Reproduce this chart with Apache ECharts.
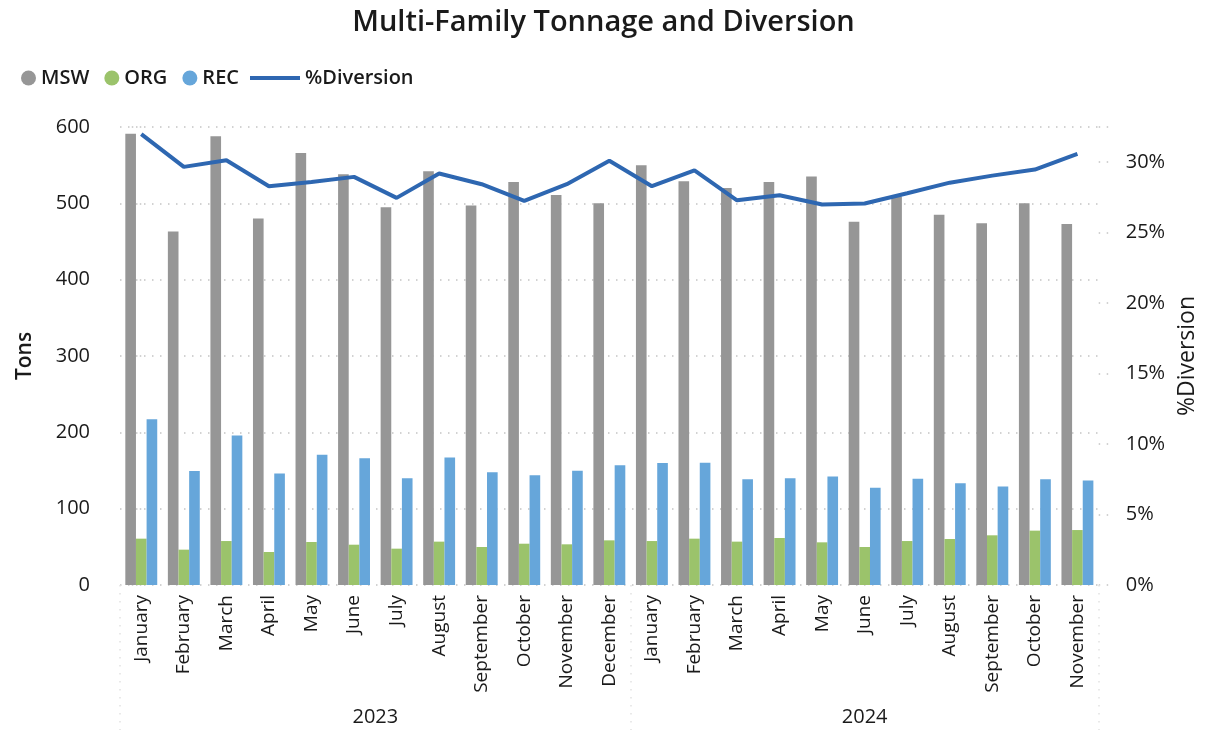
<!DOCTYPE html>
<html>
<head>
<meta charset="utf-8">
<script src="https://cdn.jsdelivr.net/npm/echarts@6/dist/echarts.min.js"></script>
<style>
html,body{margin:0;padding:0;background:#fff;}
#main{width:1207px;height:736px;}
</style>
</head>
<body>
<div id="main"></div>
<script>
const months = ['January','February','March','April','May','June','July','August','September','October','November','December',
  'January','February','March','April','May','June','July','August','September','October','November'];
const yearLabels = ['2023','2024'];
const yearCenters = [5.5, 17];
const yearBounds = [-0.5, 11.5, 22.5];
const msw = [591,463,588,480,566,538,495,542,497,528,511,500,550,529,520,528,535,476,509,485,474,500,473];
const org = [60.7,46.3,57.6,43.2,56.3,52.8,47.6,56.8,49.8,54.1,53.3,58.5,57.6,60.7,56.8,61.6,55.9,49.8,57.6,60.3,65.1,71.2,72];
const rec = [217,149.4,196,146,170.7,166,140,167,147.6,143.7,149.8,156.8,159.8,160,138.4,140,142,127.5,139.3,133.2,129.2,138.4,137];
const diversion = [0.320,0.2967,0.3014,0.283,0.286,0.2896,0.2747,0.292,0.2844,0.2726,0.2844,0.301,0.283,0.2943,0.273,0.2766,0.270,0.2707,0.278,0.2855,0.2905,0.2948,0.306];
const leftTicks = {min:0,max:600,interval:100};
const rightTicks = {min:0,max:0.325,interval:0.05};

const FONT = '"Open Sans","Noto Sans",sans-serif';
const DOT = {type:[1.5,6.5],color:'#c4c4c4',width:1.5};
const chart = echarts.init(document.getElementById('main'));
chart.setOption({
  animation:false,
  backgroundColor:'#ffffff',
  textStyle:{fontFamily:FONT},
  title:{
    text:'Multi-Family Tonnage and Diversion',
    left:'center', top:3,
    textStyle:{fontFamily:FONT,fontSize:29,fontWeight:600,color:'#1a1a1a'}
  },
  legend:[{
    data:[{name:'MSW',icon:'circle'},{name:'ORG',icon:'circle'},{name:'REC',icon:'circle'}],
    left:16, top:63, itemWidth:15, itemHeight:15, itemGap:15,
    textStyle:{fontFamily:FONT,fontSize:20,fontWeight:600,color:'#1a1a1a'}
  },{
    data:[{name:'%Diversion',icon:'rect'}],
    left:245, top:63, itemWidth:50, itemHeight:4,
    textStyle:{fontFamily:FONT,fontSize:20,fontWeight:600,color:'#1a1a1a'}
  }],
  grid:{left:120,right:108,top:127,bottom:151,containLabel:false},
  xAxis:[{
    type:'category',
    data:months,
    axisLine:{show:false},
    axisTick:{show:false},
    axisLabel:{rotate:90,fontFamily:FONT,fontSize:19,fontWeight:500,color:'#1a1a1a',margin:10}
  },{
    type:'value',
    min:-0.5,max:22.5,
    position:'bottom',
    offset:2,
    axisLine:{show:false},
    splitLine:{show:false},
    axisTick:{show:true,customValues:yearBounds,length:145,lineStyle:{type:[1.5,6.5],color:'#e2e2e2',width:1.5}},
    axisLabel:{show:true,customValues:yearCenters,margin:120,fontFamily:FONT,fontSize:20,color:'#1a1a1a',
      formatter:function(v){const i=yearCenters.indexOf(v);return i>=0?yearLabels[i]:'';}}
  }],
  yAxis:[{
    type:'value',
    min:leftTicks.min,max:leftTicks.max,interval:leftTicks.interval,
    name:'Tons',nameLocation:'middle',nameGap:84,nameRotate:90,
    nameTextStyle:{fontFamily:FONT,fontSize:21,fontWeight:600,color:'#1a1a1a'},
    axisLine:{show:false},
    axisTick:{show:true,length:13,lineStyle:DOT},
    splitLine:{show:true,lineStyle:DOT},
    axisLabel:{fontFamily:FONT,fontSize:20,fontWeight:500,color:'#1a1a1a',margin:30}
  },{
    type:'value',
    min:rightTicks.min,max:rightTicks.max,interval:rightTicks.interval,
    position:'right',
    name:'%Diversion',nameLocation:'middle',nameGap:76,nameRotate:90,
    nameTextStyle:{fontFamily:FONT,fontSize:23,fontWeight:500,color:'#1a1a1a'},
    axisLine:{show:false},
    axisTick:{show:true,length:12,lineStyle:DOT},
    splitLine:{show:false},
    axisLabel:{fontFamily:FONT,fontSize:20,fontWeight:500,color:'#1a1a1a',margin:27,
      formatter:function(v){const p=Math.round(v*1000)/10;return (p%5===0)?p+'%':'';}}
  }],
  series:[{
    name:'MSW',type:'bar',data:msw,itemStyle:{color:'#969696'},
    barGap:'0%',barCategoryGap:'25%'
  },{
    name:'ORG',type:'bar',data:org,itemStyle:{color:'#9BC36B'}
  },{
    name:'REC',type:'bar',data:rec,itemStyle:{color:'#66A6DA'}
  },{
    name:'%Diversion',type:'line',yAxisIndex:1,data:diversion,
    symbol:'none',showSymbol:false,
    lineStyle:{color:'#2E67B1',width:4},itemStyle:{color:'#2E67B1'}
  }]
});
</script>
</body>
</html>
